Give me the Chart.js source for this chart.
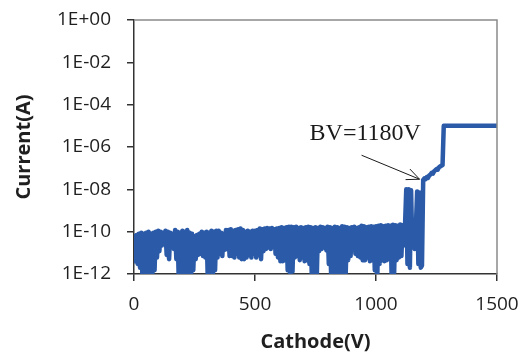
<!DOCTYPE html>
<html>
<head>
<meta charset="utf-8">
<script src="https://cdn.jsdelivr.net/npm/chart.js@4.4.1/dist/chart.umd.min.js"></script>
<style>
  html, body { margin: 0; padding: 0; background: #ffffff; }
  #wrap { width: 523px; height: 354px; }
</style>
</head>
<body>
<div id="wrap"><canvas id="iv"></canvas></div>
<script>
// Cathode sweep voltage (V)
const voltage = [
  0,5,10,15,20,25,30,35,40,45,50,55,60,65,70,75,80,85,90,95,
  100,105,110,115,120,125,130,135,140,145,150,155,160,165,170,175,180,185,190,195,
  200,205,210,215,220,225,230,235,240,245,250,255,260,265,270,275,280,285,290,295,
  300,305,310,315,320,325,330,335,340,345,350,355,360,365,370,375,380,385,390,395,
  400,405,410,415,420,425,430,435,440,445,450,455,460,465,470,475,480,485,490,495,
  500,505,510,515,520,525,530,535,540,545,550,555,560,565,570,575,580,585,590,595,
  600,605,610,615,620,625,630,635,640,645,650,655,660,665,670,675,680,685,690,695,
  700,705,710,715,720,725,730,735,740,745,750,755,760,765,770,775,780,785,790,795,
  800,805,810,815,820,825,830,835,840,845,850,855,860,865,870,875,880,885,890,895,
  900,905,910,915,920,925,930,935,940,945,950,955,960,965,970,975,980,985,990,995,
  1000,1005,1010,1015,1020,1025,1030,1035,1040,1045,1050,1055,1060,1065,1070,1075,1080,1085,1090,1095,
  1100,1105,1110,1115,1120,1125,1130,1135,1140,1145,1150,1155,1160,1165,1170,1175,1180,1185,1190,1195,
  1200,1205,1210,1215,1220,1225,1230,1235,1240,1245,1250,1255,1260,1265,1270,1275,
  1280,1350,1400,1450,1500
];

// Measured leakage current (A)
const current = [
  6e-11,4e-12, 7e-11,3e-12, 8e-11,2e-12, 9e-11,5e-13, 8e-11,5e-13,
  9e-11,5e-13, 1e-10,5e-13, 8e-11,5e-13, 9e-11,1.5e-12, 1e-10,6e-12,
  1.1e-10,1.2e-11, 1e-10,2.2e-11, 9e-11,2.6e-11, 1.1e-10,8e-12, 1e-10,5e-12,
  9e-11,2.2e-11, 8e-11,1.5e-11, 1.2e-10,5e-12, 1e-10,5e-13, 9e-11,5e-13,
  1.1e-10,5e-13, 1e-10,3e-12, 1.2e-10,5e-13, 9e-11,5e-13, 8e-11,1.5e-12,
  6e-11,5e-12, 7e-11,8e-12, 8e-11,9e-12, 1e-10,7e-12, 9e-11,6e-12,
  1e-10,5e-13, 9e-11,5e-13, 1.1e-10,5e-13, 1e-10,1.5e-12, 1.1e-10,6e-12,
  1.1e-10,9e-12, 9e-11,7e-12, 8e-11,1.4e-11, 1.2e-10,1.5e-11, 1.2e-10,7e-12,
  1.3e-10,7e-12, 1.1e-10,6e-12, 1.2e-10,9e-12, 1.3e-10,6e-12, 1.4e-10,5e-12,
  1.2e-10,5e-12, 1e-10,6e-12, 1.1e-10,8e-12, 1e-10,6e-12, 1.1e-10,9e-12,
  1.1e-10,6e-12, 1.2e-10,8e-12, 1.4e-10,5e-12, 1.3e-10,1.2e-11, 1.4e-10,1.5e-11,
  1.5e-10,1.8e-11, 1.4e-10,1.5e-11, 1.5e-10,2e-11, 1.3e-10,9e-12, 1.4e-10,6e-12,
  1.5e-10,4e-12, 1.6e-10,4e-12, 1.5e-10,4.5e-12, 1.6e-10,1.5e-12, 1.7e-10,1.2e-12,
  1.7e-10,1.3e-12, 1.6e-10,6e-12, 1.7e-10,7e-12, 1.5e-10,4.5e-12, 1.6e-10,6e-12,
  1.5e-10,4e-12, 1.6e-10,4.5e-12, 1.7e-10,3e-12, 1.6e-10,5e-13, 1.5e-10,5e-13,
  1.6e-10,5e-13, 1.5e-10,1.2e-11, 1.7e-10,1.5e-11, 1.6e-10,1.8e-11, 1.5e-10,1.3e-11,
  1.7e-10,3e-12, 1.6e-10,5e-13, 1.5e-10,5e-13, 1.7e-10,5e-13, 1.6e-10,5e-13,
  1.5e-10,5e-13, 1.8e-10,5e-13, 1.7e-10,1.2e-12, 1.6e-10,4.5e-12, 1.5e-10,7e-12,
  1.6e-10,1.8e-11, 1.7e-10,9e-12, 1.5e-10,7e-12, 1.6e-10,6e-12, 1.9e-10,4.5e-12,
  1.8e-10,4.5e-12, 1.6e-10,6e-12, 1.7e-10,4e-12, 1.8e-10,4.5e-12, 1.7e-10,1.5e-12,
  1.8e-10,5e-13, 1.9e-10,3e-12, 2e-10,4.5e-12, 1.8e-10,4e-12, 1.9e-10,4.5e-12,
  2e-10,6e-12, 1.9e-10,5e-13, 2.1e-10,1.2e-12, 2e-10,4.5e-12, 1.9e-10,6e-12,
  2.2e-10,7e-12, 2e-10,2.2e-11, 2.1e-10,
  1e-8,3e-12, 1e-8,2e-12, 9e-9,1.8e-11, 2e-10,1.5e-11, 2e-10,
  8e-9,3e-12, 7e-9,2e-12, 2.5e-12,
  2.8e-8,3.3e-8,3e-8,3.8e-8,3.5e-8,4.5e-8,5e-8,6e-8,5.5e-8,7e-8,8e-8,9e-8,8.5e-8,
  1.1e-7,1.2e-7,1.3e-7,1.4e-7,
  1e-5,1e-5,1e-5,1e-5,1e-5
];

// Axis ticks
const xTickValues = [0, 500, 1000, 1500];
const xTickLabels = ['0', '500', '1000', '1500'];
const yTickValues = [1, 1e-2, 1e-4, 1e-6, 1e-8, 1e-10, 1e-12];
const yTickLabels = ['1E+00', '1E-02', '1E-04', '1E-06', '1E-08', '1E-10', '1E-12'];

// Breakdown marker
const bvVoltage = 1180;
const bvCurrent = 3e-8;

const points = [];
for (let i = 0; i < Math.min(voltage.length, current.length); i++) {
  points.push({ x: voltage[i], y: current[i] });
}

const axisColor = '#333333';
const frameColor = '#8a8a8a';
const tickFont = { family: '"Open Sans", sans-serif', size: 19 };
const titleFont = { family: '"Open Sans", sans-serif', size: 20, weight: 'bold' };

// Gray top/right frame of the plot box
const framePlugin = {
  id: 'frame',
  afterDraw(chart) {
    const { ctx, chartArea: a } = chart;
    ctx.save();
    ctx.strokeStyle = frameColor;
    ctx.lineWidth = 1.5;
    ctx.beginPath();
    ctx.moveTo(a.left, a.top);
    ctx.lineTo(a.right, a.top);
    ctx.lineTo(a.right, a.bottom);
    ctx.stroke();
    ctx.restore();
  }
};

// "BV=..." label with an arrow pointing at the breakdown voltage
const bvPlugin = {
  id: 'bvLabel',
  afterDraw(chart) {
    const { ctx, scales } = chart;
    const tx = scales.x.getPixelForValue(bvVoltage);
    const ty = scales.y.getPixelForValue(bvCurrent);
    const sx = tx - 58, sy = ty - 24;
    ctx.save();
    ctx.strokeStyle = '#1a1a1a';
    ctx.lineWidth = 1;
    ctx.beginPath();
    ctx.moveTo(sx, sy);
    ctx.lineTo(tx, ty);
    const ang = Math.atan2(ty - sy, tx - sx);
    const hl = 14, spread = 0.42;
    ctx.moveTo(tx - hl * Math.cos(ang - spread), ty - hl * Math.sin(ang - spread));
    ctx.lineTo(tx, ty);
    ctx.lineTo(tx - hl * Math.cos(ang + spread), ty - hl * Math.sin(ang + spread));
    ctx.stroke();
    ctx.fillStyle = '#1a1a1a';
    ctx.font = '24px "Liberation Serif", "Times New Roman", serif';
    ctx.textAlign = 'left';
    ctx.textBaseline = 'alphabetic';
    ctx.fillText('BV=' + bvVoltage + 'V', tx - 110, ty - 39);
    ctx.restore();
  }
};

new Chart(document.getElementById('iv'), {
  type: 'line',
  data: {
    datasets: [{
      data: points,
      borderColor: '#2a5aa8',
      backgroundColor: '#2a5aa8',
      borderWidth: 4.5,
      pointRadius: 0,
      tension: 0,
      borderJoinStyle: 'round',
      borderCapStyle: 'round',
      fill: false
    }]
  },
  options: {
    responsive: true,
    maintainAspectRatio: false,
    animation: false,
    events: [],
    layout: { padding: { top: 20, right: 26, bottom: 0, left: 0 } },
    plugins: { legend: { display: false }, tooltip: { enabled: false } },
    scales: {
      x: {
        type: 'linear',
        min: 0,
        max: 1500,
        afterFit(s) { s.height = 80; s.paddingLeft = 0; s.paddingRight = 0; },
        afterBuildTicks(s) { s.ticks = xTickValues.map(v => ({ value: v })); },
        ticks: {
          color: '#1f1f1f',
          font: tickFont,
          padding: 12,
          maxRotation: 0,
          callback: (v, i) => xTickLabels[i]
        },
        grid: { drawOnChartArea: false, drawTicks: true, tickLength: 7, color: axisColor, lineWidth: 1.5 },
        border: { display: true, color: axisColor, width: 1.5 },
        title: { display: true, text: 'Cathode(V)', color: '#1f1f1f', font: titleFont, padding: { top: 0, bottom: 0 } }
      },
      y: {
        type: 'logarithmic',
        min: 1e-12,
        max: 1,
        afterFit(s) { s.width = 134; s.paddingTop = 0; s.paddingBottom = 0; },
        afterBuildTicks(s) { s.ticks = yTickValues.map(v => ({ value: v })); },
        ticks: {
          color: '#1f1f1f',
          font: tickFont,
          padding: 16,
          callback: (v, i) => yTickLabels[i]
        },
        grid: { drawOnChartArea: false, drawTicks: true, tickLength: 7, color: axisColor, lineWidth: 1.5 },
        border: { display: true, color: axisColor, width: 1.5 },
        title: { display: true, text: 'Current(A)', color: '#1f1f1f', font: titleFont, padding: { top: 12, bottom: 0 } }
      }
    }
  },
  plugins: [framePlugin, bvPlugin]
});
</script>
</body>
</html>
